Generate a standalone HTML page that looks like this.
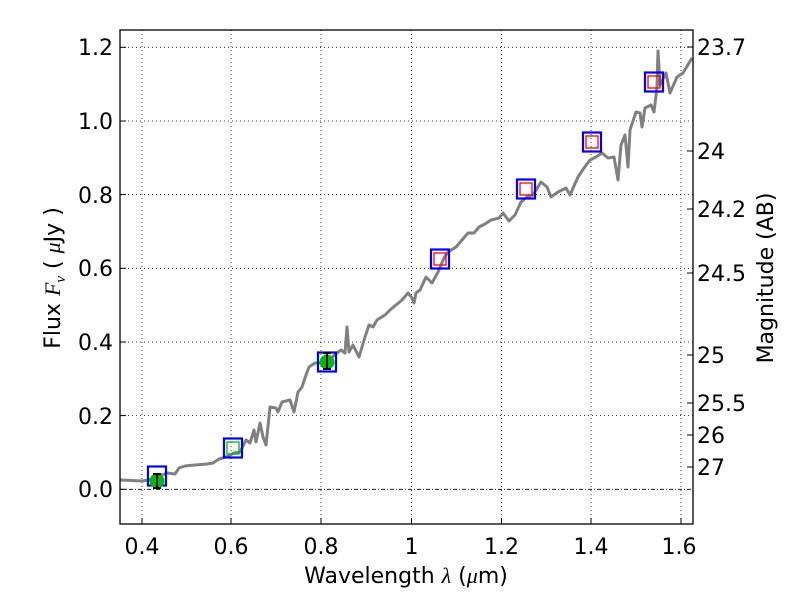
<!DOCTYPE html>
<html><head><meta charset="utf-8"><style>
body{margin:0;background:#fff;}
svg{display:block;font-family:"DejaVu Sans","Liberation Sans",sans-serif;}
</style></head><body>
<svg width="800" height="600" viewBox="0 0 800 600" xmlns="http://www.w3.org/2000/svg">
<rect width="800" height="600" fill="#fff"/>
<g stroke="#000" stroke-width="0.8" stroke-dasharray="1,3" fill="none">
<line x1="142" y1="30" x2="142" y2="524"/><line x1="231" y1="30" x2="231" y2="524"/>
<line x1="321" y1="30" x2="321" y2="524"/><line x1="411.5" y1="30" x2="411.5" y2="524"/>
<line x1="501.5" y1="30" x2="501.5" y2="524"/><line x1="591" y1="30" x2="591" y2="524"/>
<line x1="681" y1="30" x2="681" y2="524"/>
<line x1="120" y1="47.3" x2="693" y2="47.3"/><line x1="120" y1="121" x2="693" y2="121"/>
<line x1="120" y1="194.6" x2="693" y2="194.6"/><line x1="120" y1="268.3" x2="693" y2="268.3"/>
<line x1="120" y1="342" x2="693" y2="342"/><line x1="120" y1="415.6" x2="693" y2="415.6"/>
<line x1="120" y1="489.3" x2="693" y2="489.3" stroke-dasharray="4,2,1,2"/>
</g>
<polyline fill="none" stroke="#808080" stroke-width="3" stroke-linejoin="round" points="120.5,480 142,481 149,480 167,473 175,474 179,468 185,466 195,465 207,464 213,463 219,459 226,457 234,453 240,452 246,440 250,443 254,430 256,442 260,423 263,437 266,445 270,407 276,408 278,412 282,402 290,400 294,412 298,392 302,387 306,375 309,367 315,363 325,363 331,358 337,353 341,350 345,353 347,327 349,352 353,345 359,357 365,337 369,325 373,327 377,320 385,315 390,310 396,305 402,300 408,293 412,298 414,303 416,293 420,290 426,277 432,283 438,272 444,258 448,252 456,247 462,240 468,233 474,233 479,227 485,224 491,220 499,218 503,213 509,221 515,215 521,202 527,197 533,195 541,182 547,187 551,197 558,192 566,188 570,195 578,177 584,168 590,160 596,157 602,153 608,158 614,157 618,180 621,145 625,135 628,167 630,130 636,112 640,113 642,127 645,108 651,105 654,112 657,87 658,51 660,85 666,73 670,93 677,77 683,73 692,58"/>
<g fill="none" stroke-width="2.2">
<rect x="148" y="466.5" width="18" height="19" stroke="#0000ff"/>
<rect x="224" y="438.5" width="18" height="19" stroke="#0000ff"/>
<rect x="318" y="352.5" width="18" height="19" stroke="#0000ff"/>
<rect x="431" y="249.5" width="18" height="19" stroke="#0000ff"/>
<rect x="517" y="179.5" width="18" height="19" stroke="#0000ff"/>
<rect x="583" y="132.5" width="18" height="19" stroke="#0000ff"/>
<rect x="645" y="72.5" width="18" height="19" stroke="#0000ff"/>
</g>
<g fill="none" stroke-width="1.3">
<rect x="227" y="442" width="12" height="12" stroke="#00bb00"/>
<rect x="434" y="253" width="12" height="12" stroke="#ff0000"/>
<rect x="520" y="183" width="12" height="12" stroke="#ff0000"/>
<rect x="586" y="136" width="12" height="12" stroke="#ff0000"/>
<rect x="648" y="76" width="12" height="12" stroke="#ff0000"/>
</g>
<circle cx="157" cy="481" r="7.5" fill="#00bb00"/>
<circle cx="327" cy="362" r="7.5" fill="#00bb00"/>
<g stroke="#000" stroke-width="2">
<line x1="157" y1="474" x2="157" y2="488"/><line x1="153" y1="474" x2="161" y2="474"/><line x1="153" y1="488" x2="161" y2="488"/>
<line x1="327" y1="353" x2="327" y2="369"/><line x1="323" y1="353" x2="331" y2="353"/><line x1="323" y1="369" x2="331" y2="369"/>
</g>
<rect x="120" y="30" width="573" height="494" fill="none" stroke="#000" stroke-width="1.3"/>
<g stroke="#000" stroke-width="1">
<line x1="142" y1="524" x2="142" y2="518"/><line x1="231" y1="524" x2="231" y2="518"/><line x1="321" y1="524" x2="321" y2="518"/><line x1="411.5" y1="524" x2="411.5" y2="518"/><line x1="501.5" y1="524" x2="501.5" y2="518"/><line x1="591" y1="524" x2="591" y2="518"/><line x1="681" y1="524" x2="681" y2="518"/>
<line x1="120" y1="47.3" x2="126" y2="47.3"/><line x1="120" y1="121" x2="126" y2="121"/><line x1="120" y1="194.6" x2="126" y2="194.6"/><line x1="120" y1="268.3" x2="126" y2="268.3"/><line x1="120" y1="342" x2="126" y2="342"/><line x1="120" y1="415.6" x2="126" y2="415.6"/><line x1="120" y1="489.3" x2="126" y2="489.3"/>
<line x1="693" y1="47" x2="687" y2="47"/><line x1="693" y1="151" x2="687" y2="151"/><line x1="693" y1="209" x2="687" y2="209"/><line x1="693" y1="273" x2="687" y2="273"/><line x1="693" y1="355" x2="687" y2="355"/><line x1="693" y1="403" x2="687" y2="403"/><line x1="693" y1="435" x2="687" y2="435"/><line x1="693" y1="467" x2="687" y2="467"/>
</g>
<g font-size="22" fill="#000" text-anchor="end">
<text x="113" y="55">1.2</text><text x="113" y="129">1.0</text><text x="113" y="203">0.8</text><text x="113" y="276">0.6</text><text x="113" y="350">0.4</text><text x="113" y="424">0.2</text><text x="113" y="497">0.0</text>
</g>
<g font-size="22" fill="#000" text-anchor="middle">
<text x="142" y="554">0.4</text><text x="231" y="554">0.6</text><text x="321" y="554">0.8</text><text x="411.5" y="554">1</text><text x="501.5" y="554">1.2</text><text x="591" y="554">1.4</text><text x="679" y="554">1.6</text>
<text x="406" y="583">Wavelength  <tspan font-style="italic" font-family="Liberation Serif,serif">λ</tspan> (<tspan font-style="italic" font-family="Liberation Serif,serif">μ</tspan>m)</text>
</g>
<g font-size="22" fill="#000">
<text x="697" y="55">23.7</text><text x="697" y="159">24</text><text x="697" y="217">24.2</text><text x="697" y="281">24.5</text><text x="697" y="363">25</text><text x="697" y="411">25.5</text><text x="697" y="443">26</text><text x="697" y="475">27</text>
</g>
<text transform="translate(60,278) rotate(-90)" font-size="22" text-anchor="middle">Flux  <tspan font-style="italic" font-family="Liberation Serif,serif">F</tspan><tspan font-style="italic" font-family="Liberation Serif,serif" font-size="15" dy="5">ν</tspan><tspan dy="-5">  ( </tspan><tspan font-style="italic" font-family="Liberation Serif,serif">μ</tspan>Jy )</text>
<text transform="translate(773,278) rotate(-90)" font-size="22" text-anchor="middle">Magnitude (AB)</text>
</svg>
</body></html>
